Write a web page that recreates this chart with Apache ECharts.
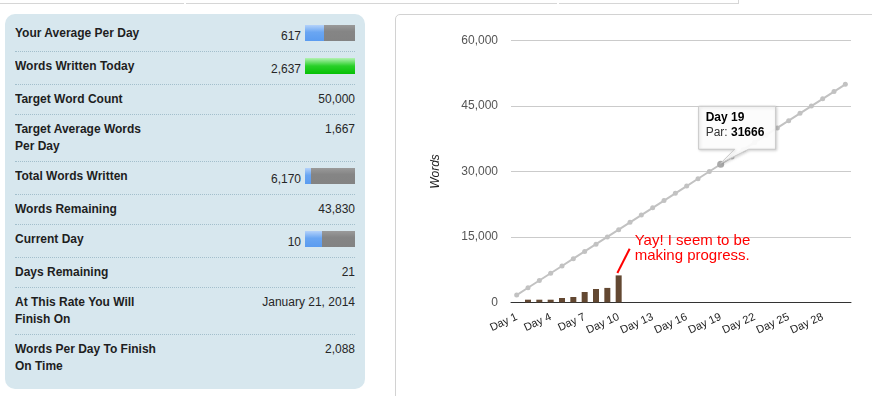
<!DOCTYPE html>
<html>
<head>
<meta charset="utf-8">
<script src="https://cdn.jsdelivr.net/npm/echarts@6.0.0/dist/echarts.min.js"></script>
<style>
html,body{margin:0;padding:0;background:#fff;width:872px;height:396px;overflow:hidden;font-family:"Liberation Sans",Arial,sans-serif;}
.topline{position:absolute;top:3px;height:1px;background:#d6d6d6;}
.topstub{position:absolute;top:0;left:738px;width:1px;height:4px;background:#d6d6d6;}
#stats{position:absolute;left:5px;top:14px;width:360px;height:375px;box-sizing:border-box;padding:5px 10px 0;background:#d7e7ee;border-radius:10px;}
.row{padding:6px 0;border-bottom:1px dotted #a3bfcc;line-height:17px;font-size:12px;color:#222;overflow:hidden;}
.row:last-child{border-bottom:none;}
.lbl{float:left;width:145px;font-weight:bold;color:#1e1e1e;}
.val{float:right;text-align:right;color:#262626;}
.val.hasbar{margin-bottom:-0.3px;}
.pbar{display:inline-block;width:50px;height:16px;margin-left:4px;vertical-align:-0.7px;position:relative;background:linear-gradient(#9a9a9a,#858585 40%,#838383);}
.pbar .fill{position:absolute;left:0;top:0;bottom:0;background:linear-gradient(#b4d2fa,#6aa6f2 45%,#5b9cf0);}
.pbar .fill.over{background:linear-gradient(#b2f2b2,#28d028 50%,#06c006);}
#panel{position:absolute;left:395px;top:14px;width:490px;height:400px;border:1px solid #d2d2d2;border-top-left-radius:5px;}
#chart{position:absolute;left:396px;top:15px;width:476px;height:381px;}
</style>
</head>
<body>
<div class="topline" style="left:0;width:184px"></div>
<div class="topline" style="left:186px;width:371px"></div>
<div class="topline" style="left:559px;width:180px"></div>
<div class="topstub"></div>
<div id="stats"></div>
<div id="panel"></div>
<div id="chart"></div>
<script>
// ---- stats panel data ----
const statLabels = ['Your Average Per Day', 'Words Written Today', 'Target Word Count', 'Target Average Words Per Day', 'Total Words Written', 'Words Remaining', 'Current Day', 'Days Remaining', 'At This Rate You Will Finish On', 'Words Per Day To Finish On Time'];
const statValues = ['617', '2,637', '50,000', '1,667', '6,170', '43,830', '10', '21', 'January 21, 2014', '2,088'];
// progress bars: row index, current value, target value
const statBarRows = [0, 1, 4, 6];
const statBarCurrent = [617, 2637, 6170, 10];
const statBarTarget = [1667, 1667, 50000, 30];

// ---- chart data ----
const categories = ['Day 1', 'Day 2', 'Day 3', 'Day 4', 'Day 5', 'Day 6', 'Day 7', 'Day 8', 'Day 9', 'Day 10',
  'Day 11', 'Day 12', 'Day 13', 'Day 14', 'Day 15', 'Day 16', 'Day 17', 'Day 18', 'Day 19', 'Day 20',
  'Day 21', 'Day 22', 'Day 23', 'Day 24', 'Day 25', 'Day 26', 'Day 27', 'Day 28', 'Day 29', 'Day 30'];
const wordsWritten = [0, 600, 600, 600, 990, 1220, 2360, 3050, 3300, 6170];
const parWords = [1666, 3333, 5000, 6666, 8333, 10000, 11666, 13333, 15000, 16666,
  18333, 20000, 21666, 23333, 25000, 26666, 28333, 30000, 31666, 33333,
  35000, 36666, 38333, 40000, 41666, 43333, 45000, 46666, 48333, 50000];
const yTicks = [0, 15000, 30000, 45000, 60000];
const yAxisName = 'Words';
const tooltipDay = 'Day 19';
const tooltipSeriesName = 'Par';
const annotationDay = 'Day 10';
const annotationText = 'Yay! I seem to be\nmaking progress.';

// build stats panel
const stats = document.getElementById('stats');
statLabels.forEach((lab, i) => {
  const row = document.createElement('div');
  row.className = 'row';
  const l = document.createElement('div');
  l.className = 'lbl';
  l.textContent = lab;
  const v = document.createElement('div');
  v.className = 'val';
  v.appendChild(document.createTextNode(statValues[i]));
  const bi = statBarRows.indexOf(i);
  if (bi >= 0) {
    v.className = 'val hasbar';
    const bar = document.createElement('span');
    bar.className = 'pbar';
    const f = document.createElement('span');
    const frac = statBarCurrent[bi] / statBarTarget[bi];
    f.className = 'fill' + (frac >= 1 ? ' over' : '');
    f.style.width = (Math.min(frac, 1) * 100) + '%';
    bar.appendChild(f);
    v.appendChild(bar);
  }
  row.appendChild(l);
  row.appendChild(v);
  stats.appendChild(row);
});

// chart
const FONT = '"Liberation Sans", Arial, sans-serif';
const chart = echarts.init(document.getElementById('chart'), null, {renderer: 'canvas'});
const tipIdx = categories.indexOf(tooltipDay);
chart.setOption({
  animation: false,
  backgroundColor: 'transparent',
  textStyle: {fontFamily: FONT},
  grid: {left: 115, right: 21, top: 25.7, bottom: 93.7, containLabel: false, outerBoundsMode: 'none'},
  xAxis: {
    type: 'category',
    data: categories,
    boundaryGap: true,
    axisLine: {show: true, lineStyle: {color: '#333', width: 1}},
    axisTick: {show: false},
    axisLabel: {interval: 2, rotate: 25, fontSize: 11, color: '#222', margin: 14, fontFamily: FONT},
    splitLine: {show: false}
  },
  yAxis: {
    type: 'value',
    min: yTicks[0],
    max: yTicks[yTicks.length - 1],
    interval: yTicks[1] - yTicks[0],
    name: yAxisName,
    nameLocation: 'middle',
    nameGap: 69,
    nameRotate: 90,
    nameTextStyle: {fontStyle: 'italic', fontSize: 12, color: '#222', fontFamily: FONT},
    axisLine: {show: false},
    axisTick: {show: false},
    axisLabel: {fontSize: 12, color: '#555', margin: 13, fontFamily: FONT,
      formatter: v => v.toLocaleString('en-US')},
    splitLine: {lineStyle: {color: '#cbcbcb', width: 1}}
  },
  series: [
    {
      name: tooltipSeriesName,
      type: 'line',
      data: parWords.map((v, i) => i === tipIdx ? {value: v, symbolSize: 7, itemStyle: {color: '#aaaaaa'}} : v),
      symbol: 'circle',
      symbolSize: 5,
      showSymbol: true,
      showAllSymbol: true,
      lineStyle: {color: '#c2c2c2', width: 2},
      itemStyle: {color: '#c2c2c2'},
      z: 2
    },
    {
      name: 'Words',
      type: 'bar',
      data: wordsWritten,
      barWidth: 6,
      itemStyle: {color: '#634832'},
      z: 3
    }
  ]
});

// annotations anchored to data points
const p = chart.convertToPixel({gridIndex: 0}, [tipIdx, parWords[tipIdx]]);
const aIdx = categories.indexOf(annotationDay);
const q = chart.convertToPixel({gridIndex: 0}, [aIdx, wordsWritten[aIdx]]);
const L = p[0] - 22, T = p[1] - 58, W = 77, H = 43, B = T + H;
chart.setOption({
  graphic: [
    {
      type: 'polygon',
      z: 100,
      shape: {points: [[L, T], [L + W, T], [L + W, B], [p[0] + 28, B], [p[0], p[1] - 1], [p[0] + 14, B], [L, B]]},
      style: {fill: 'rgba(255,255,255,0.92)', stroke: '#c8c8c8', lineWidth: 1,
        shadowBlur: 3, shadowOffsetX: 1, shadowOffsetY: 1, shadowColor: 'rgba(0,0,0,0.18)'}
    },
    {
      type: 'text',
      z: 101,
      x: L + 7,
      y: T + 4,
      style: {
        text: '{b|' + tooltipDay + '}\n{n|' + tooltipSeriesName + ': }{b|' + parWords[tipIdx] + '}',
        verticalAlign: 'top',
        rich: {
          b: {fontWeight: 'bold', fontSize: 12, lineHeight: 15, fill: '#000', fontFamily: FONT},
          n: {fontSize: 12, lineHeight: 15, fill: '#333', fontFamily: FONT}
        }
      }
    },
    {
      type: 'line',
      z: 100,
      shape: {x1: q[0] - 1.3, y1: q[1] - 2.4, x2: q[0] + 11, y2: q[1] - 26.7},
      style: {stroke: '#ff0000', lineWidth: 2}
    },
    {
      type: 'text',
      z: 100,
      x: q[0] + 16,
      y: q[1] - 42,
      style: {text: annotationText, fontSize: 15, lineHeight: 15, fill: '#ff0000', fontFamily: FONT, verticalAlign: 'top'}
    }
  ]
});
</script>
</body>
</html>
